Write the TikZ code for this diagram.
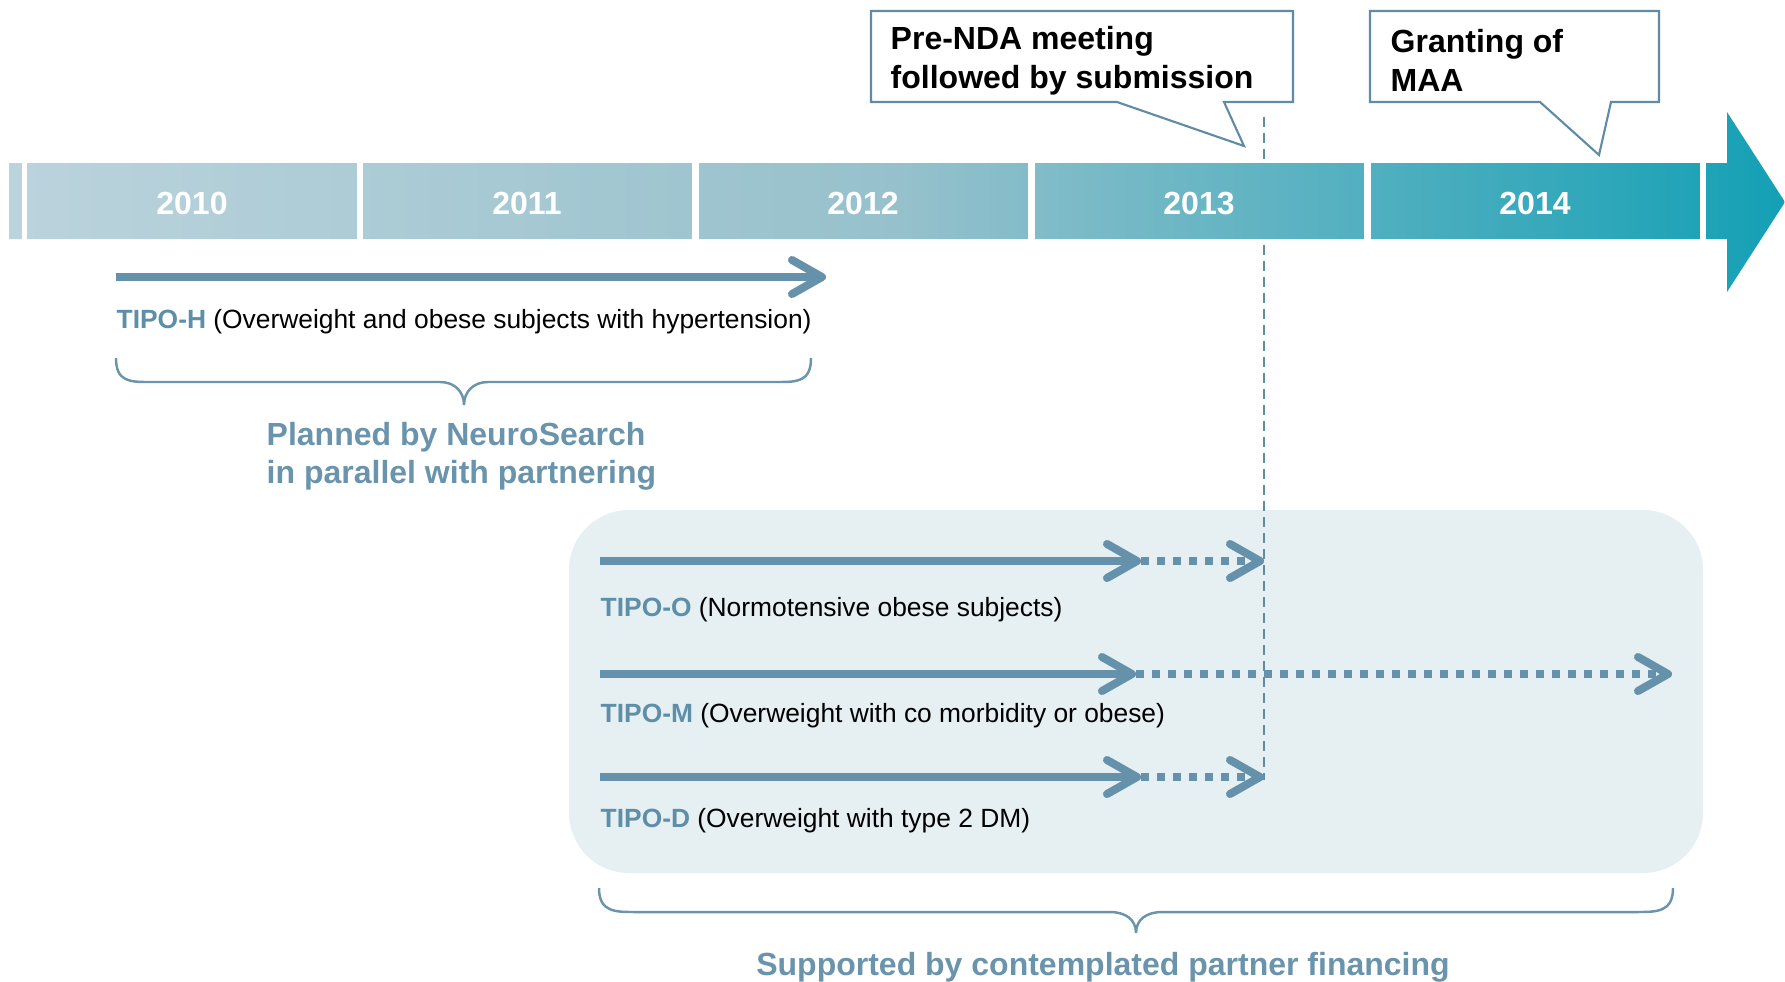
\documentclass[tikz,border=0pt]{standalone}
\usepackage{fontspec}
\setmainfont{Liberation Sans}
\usetikzlibrary{arrows.meta}
\definecolor{tipoblue}{HTML}{6591AA}
\definecolor{tipotext}{HTML}{5E8FA8}
\definecolor{bracecol}{HTML}{6A94AC}
\definecolor{calloutcol}{HTML}{5F8BA5}
\definecolor{panelcol}{HTML}{E6EFF2}
\definecolor{barlight}{HTML}{BBD3DC}
\definecolor{barmid}{HTML}{96C1CC}
\definecolor{bardark}{HTML}{14A0B5}
\newcommand{\tipo}[1]{\textcolor{tipotext}{\bfseries #1}}
\tikzset{
  phase/.style = {draw=tipoblue, line width=0.08cm,
                  -{Straight Barb[length=0.3cm, width=0.34cm, round]}},
  later/.style = {phase, dash pattern=on 0.08cm off 0.08cm},
  bracepath/.style = {draw=bracecol, line width=0.7pt},
  calloutbox/.style = {draw=calloutcol, line width=0.6pt, fill=white},
  year/.style = {text=white, inner sep=0pt,
                 font=\fontsize{9.1pt}{10pt}\selectfont\bfseries},
  studytext/.style = {anchor=west, inner sep=0pt,
                      font=\fontsize{7.5pt}{9pt}\selectfont},
  notetext/.style = {anchor=west, inner sep=0pt, align=left,
                     font=\fontsize{9.1pt}{11.1pt}\selectfont\bfseries},
  bigtext/.style = {inner sep=0pt, align=left, text=bracecol,
                    font=\fontsize{9.1pt}{10.9pt}\selectfont\bfseries}
}

\begin{document}
\begin{tikzpicture}[x=0.01cm, y=-0.01cm]
	\useasboundingbox (0,0) rectangle (1785,981);
	
	% Partner panel
	\fill[panelcol, rounded corners=0.6cm] (569,510) rectangle (1703,873);
	
	% Submission line
	\draw[calloutcol, line width=0.6pt, dash pattern=on 0.1cm off 0.06cm] (1264,117) -- (1264,780);
	
	% Time bar
	\shade[left color=barlight, right color=bardark, middle color=barmid]
	      (9,163) -- (1727,163) -- (1727,112) -- (1785,202) -- (1727,292) -- (1727,239) -- (9,239) -- cycle;
	\fill[white] (22,160) rectangle (27,242);
	\fill[white] (357,160) rectangle (363,242);
	\fill[white] (692,160) rectangle (699,242);
	\fill[white] (1028,160) rectangle (1035,242);
	\fill[white] (1364,160) rectangle (1371,242);
	\fill[white] (1700,160) rectangle (1706,242);
	
	% Years
	\node[year] (y2010) at (192,203) {2010};
	\node[year] (y2011) at (527,203) {2011};
	\node[year] (y2012) at (863,203) {2012};
	\node[year] (y2013) at (1199,203) {2013};
	\node[year] (y2014) at (1535,203) {2014};
	
	% Callouts
	\draw[calloutbox] (871,11) -- (1293,11) -- (1293,102) -- (1224,102) -- (1244,146) -- (1117,102) -- (871,102) -- cycle;
	\node[notetext] (prenda) at (890,61) {Pre-NDA meeting\\followed by submission};
	\draw[calloutbox] (1370,11) -- (1659,11) -- (1659,102) -- (1611,102) -- (1599,155) -- (1540,102) -- (1370,102) -- cycle;
	\node[notetext] (maa) at (1390,60) {Granting of\\MAA};
	
	% TIPO-H
	\coordinate (h-start) at (116,277);
	\coordinate (h-end) at (826,277);
	\draw[phase] (h-start) -- (h-end);
	\node[studytext] (tipo-h) at (116,322) {\tipo{TIPO-H} (Overweight and obese subjects with hypertension)};
	\draw[bracepath] (116,358) .. controls (116,382) and (130,382) .. (150,382) -- (440,382)
	      .. controls (455,382) and (464,392) .. (464,405) .. controls (464,392) and (473,382) .. (488,382)
	      -- (777,382) .. controls (797,382) and (811,382) .. (811,358);
	\node[bigtext, anchor=west] (planned) at (266,456) {Planned by NeuroSearch\\in parallel with partnering};
	
	% TIPO-O
	\coordinate (o-start) at (600,561);
	\coordinate (o-mid) at (1141,561);
	\coordinate (o-end) at (1264,561);
	\draw[phase] (o-start) -- (o-mid);
	\draw[later] (o-mid) -- (o-end);
	\node[studytext] (tipo-o) at (600,610) {\tipo{TIPO-O} (Normotensive obese subjects)};
	
	% TIPO-M
	\coordinate (m-start) at (600,674);
	\coordinate (m-mid) at (1136,674);
	\coordinate (m-end) at (1672,674);
	\draw[phase] (m-start) -- (m-mid);
	\draw[later] (m-mid) -- (m-end);
	\node[studytext] (tipo-m) at (600,716) {\tipo{TIPO-M} (Overweight with co morbidity or obese)};
	
	% TIPO-D
	\coordinate (d-start) at (600,777);
	\coordinate (d-mid) at (1141,777);
	\coordinate (d-end) at (1264,777);
	\draw[phase] (d-start) -- (d-mid);
	\draw[later] (d-mid) -- (d-end);
	\node[studytext] (tipo-d) at (600,821) {\tipo{TIPO-D} (Overweight with type 2 DM)};
	
	% Partner brace
	\draw[bracepath] (599,888) .. controls (599,912) and (615,912) .. (635,912) -- (1110,912)
	      .. controls (1126,912) and (1136,920) .. (1136,933) .. controls (1136,920) and (1146,912) .. (1162,912)
	      -- (1637,912) .. controls (1657,912) and (1673,912) .. (1673,888);
	\node[bigtext] (supported) at (1103,967) {Supported by contemplated partner financing};
	
\end{tikzpicture}
\end{document}
